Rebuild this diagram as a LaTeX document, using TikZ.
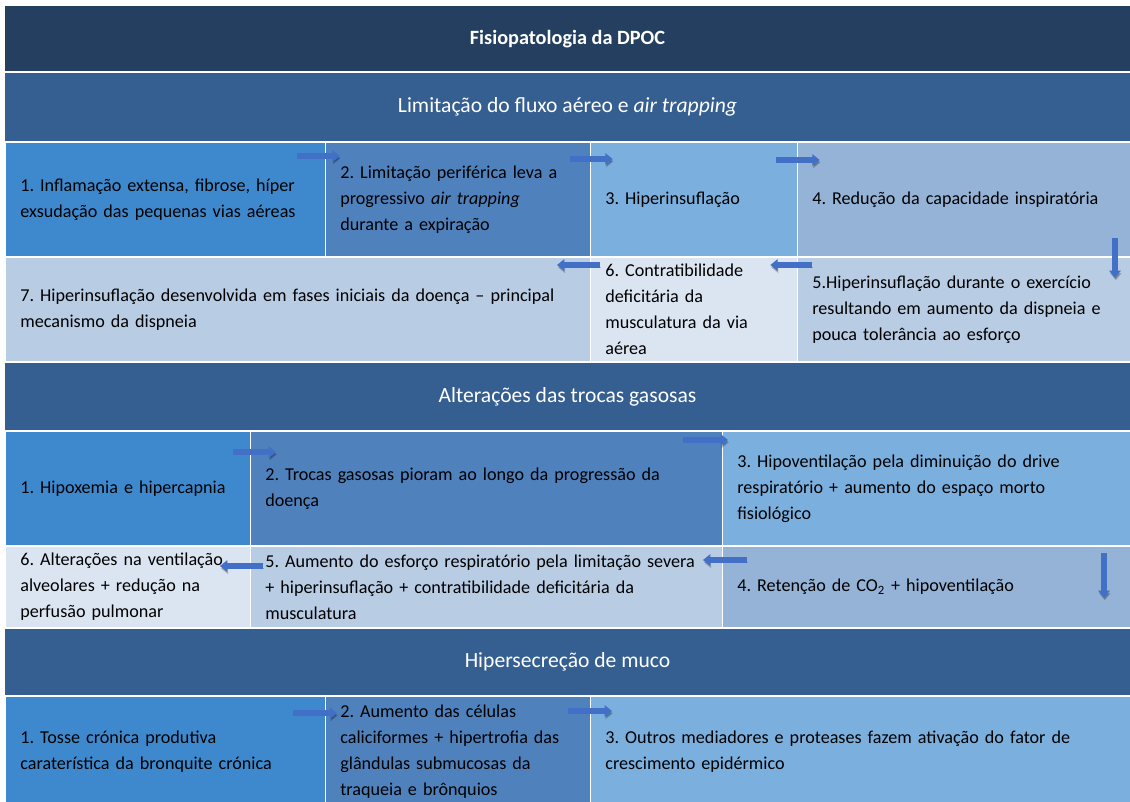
\documentclass[tikz,border=0pt]{standalone}
\usepackage{fontspec}
\setmainfont{Carlito}
\usepackage{xcolor}
\usepackage{tikz}
\usetikzlibrary{positioning,arrows.meta}
\frenchspacing

\definecolor{navy}{RGB}{36,63,96}
\definecolor{secao}{RGB}{54,95,145}
\definecolor{cA}{RGB}{62,137,205}
\definecolor{cB}{RGB}{79,129,189}
\definecolor{cC}{RGB}{123,175,222}
\definecolor{cD}{RGB}{149,179,215}
\definecolor{cE}{RGB}{184,204,228}
\definecolor{cF}{RGB}{219,229,241}
\definecolor{azul}{RGB}{66,112,198}

\begin{document}
\begin{tikzpicture}[every node/.style={outer sep=0pt, inner ysep=0pt},
    faixa/.style={fill=#1, minimum width=843.75pt, text=white, font=\fontsize{16.2}{19}\selectfont},
    cel/.style={fill=#1, draw=white, line width=0.5pt, inner xsep=11.5pt, align=left, text=black, font=\fontsize{13.6}{19.5}\selectfont},
    linha/.style={draw=white, line width=1.9pt},
    seta/.style={-{Triangle[length=5.5pt,width=8.5pt]}, line width=4.6pt, draw=azul,
        preaction={draw=black, opacity=0.2, transform canvas={shift={(0.6pt,-1.8pt)}}}}]
    \useasboundingbox (0,0) rectangle (847.5pt,-601.5pt);

    % Título
    \node (titulo) [faixa=navy, minimum height=49.5pt, anchor=north west] at (3.75pt,-4.5pt) {\fontsize{15.2}{18}\selectfont\bfseries Fisiopatologia da DPOC};

    % Limitação do fluxo aéreo
    \node (h1) [faixa=secao, minimum height=52.5pt, below=0pt of titulo] {Limitação do fluxo aéreo e \textit{air trapping}};
    \node (a1) [cel=cA, text width=217pt, minimum height=86.25pt, anchor=north west] at (h1.south west) {1. Inflamação extensa, fibrose, híper\\exsudação das pequenas vias aéreas};
    \node (a2) [cel=cB, text width=175.75pt, minimum height=86.25pt, right=0pt of a1] {2. Limitação periférica leva a\\progressivo \textit{air trapping}\\durante a expiração};
    \node (a3) [cel=cC, text width=132.25pt, minimum height=86.25pt, right=0pt of a2] {3. Hiperinsuflação};
    \node (a4) [cel=cD, text width=226.75pt, minimum height=86.25pt, right=0pt of a3] {4. Redução da capacidade inspiratória};
    \node (b7) [cel=cE, text width=415.75pt, minimum height=78.75pt, anchor=north west] at (a1.south west) {7. Hiperinsuflação desenvolvida em fases iniciais da doença – principal\\mecanismo da dispneia};
    \node (b6) [cel=cF, text width=132.25pt, minimum height=78.75pt, right=0pt of b7] {6. Contratibilidade\\deficitária da\\musculatura da via\\aérea};
    \node (b5) [cel=cE, text width=226.75pt, minimum height=78.75pt, right=0pt of b6] {5.Hiperinsuflação durante o exercício\\resultando em aumento da dispneia e\\pouca tolerância ao esforço};

    % Alterações das trocas gasosas
    \node (h2) [faixa=secao, minimum height=51.75pt, anchor=north west] at (b7.south west) {Alterações das trocas gasosas};
    \node (c1) [cel=cA, text width=160.75pt, minimum height=86.25pt, anchor=north west] at (h2.south west) {1. Hipoxemia e hipercapnia};
    \node (c2) [cel=cB, text width=331pt, minimum height=86.25pt, right=0pt of c1] {2. Trocas gasosas pioram ao longo da progressão da\\doença};
    \node (c3) [cel=cC, text width=283pt, minimum height=86.25pt, right=0pt of c2] {3. Hipoventilação pela diminuição do drive\\respiratório + aumento do espaço morto\\fisiológico};
    \node (d6) [cel=cF, text width=160.75pt, minimum height=61.5pt, anchor=north west] at (c1.south west) {6. Alterações na ventilação\\alveolares + redução na\\perfusão pulmonar};
    \node (d5) [cel=cE, text width=331pt, minimum height=61.5pt, right=0pt of d6] {5. Aumento do esforço respiratório pela limitação severa\\+ hiperinsuflação + contratibilidade deficitária da\\musculatura};
    \node (d4) [cel=cD, text width=283pt, minimum height=61.5pt, right=0pt of d5] {4. Retenção de CO\textsubscript{2} + hipoventilação};

    % Hipersecreção de muco
    \node (h3) [faixa=secao, minimum height=51pt, anchor=north west] at (d6.south west) {Hipersecreção de muco};
    \node (e1) [cel=cA, text width=217pt, minimum height=84pt, anchor=north west] at (h3.south west) {1. Tosse crónica produtiva\\caraterística da bronquite crónica};
    \node (e2) [cel=cB, text width=175.75pt, minimum height=84pt, right=0pt of e1] {2. Aumento das células\\caliciformes + hipertrofia das\\glândulas submucosas da\\traqueia e brônquios};
    \node (e3) [cel=cC, text width=382pt, minimum height=84pt, right=0pt of e2] {3. Outros mediadores e proteases fazem ativação do fator de\\crescimento epidérmico};

    % linhas brancas entre as faixas
    \draw[linha] (titulo.south west) -- (titulo.south east);
    \draw[linha] (h1.south west) -- (h1.south east);
    \draw[linha] (a1.south west) -- (a4.south east);
    \draw[linha] (h2.north west) -- (h2.north east);
    \draw[linha] (h2.south west) -- (h2.south east);
    \draw[linha] (c1.south west) -- (c3.south east);
    \draw[linha] (h3.north west) -- (h3.north east);
    \draw[linha] (h3.south west) -- (h3.south east);

    % setas
    \draw[seta] ([shift={(-21pt,-10.5pt)}]a1.north east) -- ([shift={(11pt,-10.5pt)}]a2.north west);
    \draw[seta] ([shift={(-15pt,-12.75pt)}]a2.north east) -- ([shift={(17pt,-12.75pt)}]a3.north west);
    \draw[seta] ([shift={(-15.75pt,-13.5pt)}]a3.north east) -- ([shift={(17pt,-13.5pt)}]a4.north west);
    \draw[seta] ([shift={(-11.25pt,14.25pt)}]a4.south east) -- ([shift={(-11.25pt,-15.75pt)}]b5.north east);
    \draw[seta] ([shift={(11.25pt,-6pt)}]b5.north west) -- ([shift={(-20pt,-6pt)}]b6.north east);
    \draw[seta] ([shift={(7.5pt,-6pt)}]b6.north west) -- ([shift={(-24.75pt,-6pt)}]b7.north east);
    \draw[seta] ([shift={(-12.75pt,-15.75pt)}]c1.north east) -- ([shift={(19.5pt,-15.75pt)}]c2.north west);
    \draw[seta] ([shift={(-29.25pt,-6.75pt)}]c2.north east) -- ([shift={(4.5pt,-6.75pt)}]c3.north west);
    \draw[seta] ([shift={(-19.5pt,-5.25pt)}]c3.south east) -- ([shift={(-19.5pt,-39pt)}]d4.north east);
    \draw[seta] ([shift={(18.75pt,-10.5pt)}]d4.north west) -- ([shift={(-14.25pt,-10.5pt)}]d5.north east);
    \draw[seta] ([shift={(9.75pt,-15pt)}]d5.north west) -- ([shift={(-22.5pt,-15pt)}]d6.north east);
    \draw[seta] ([shift={(-24pt,-12.75pt)}]e1.north east) -- ([shift={(9pt,-12.75pt)}]e2.north west);
    \draw[seta] ([shift={(-16.5pt,-11.25pt)}]e2.north east) -- ([shift={(16.5pt,-11.25pt)}]e3.north west);
\end{tikzpicture}
\end{document}
